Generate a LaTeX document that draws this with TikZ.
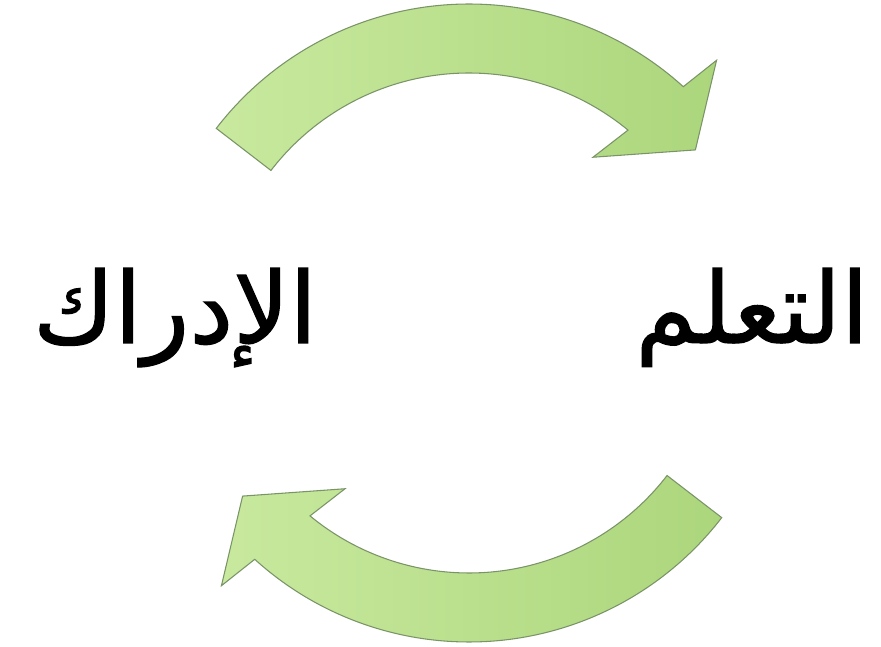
\documentclass[tikz,border=0pt]{standalone}
\usepackage{fontspec}
\newfontfamily\arabicfont[Script=Arabic, FakeBold=1.2]{DejaVu Sans}
\TeXXeTstate=1
\definecolor{arrowlight}{RGB}{200,233,158}
\definecolor{arrowdark}{RGB}{172,214,124}
\definecolor{arrowline}{RGB}{122,148,104}

\begin{document}
\begin{tikzpicture}[x=0.75pt, y=0.75pt,
  cyc/.style={draw=arrowline, line width=0.8pt, line join=miter,
              left color=arrowlight, right color=arrowdark},
  word/.style={font=\arabicfont\fontsize{74}{80}\selectfont,
               anchor=base, inner sep=0pt}
]
\useasboundingbox (0,0) rectangle (881,646);
\coordinate (c) at (469,323);

\node[word] (perc)  at (175,303) {\beginR الإدراك\endR};
\node[word] (learn) at (752,303) {\beginR التعلم\endR};

% top arrow, left to right
\draw[cyc, shift={(c)}] (142.4:319) arc[start angle=142.4, end angle=47.8, radius=319]
  -- (46.7:361) -- (37.4:285) -- (53.2:207) -- (50.5:250)
  arc[start angle=50.5, end angle=142.4, radius=250] -- cycle;

% bottom arrow, right to left
\draw[cyc, shift={(c)}] (322.4:319) arc[start angle=322.4, end angle=227.8, radius=319]
  -- (226.7:361) -- (217.4:285) -- (233.2:207) -- (230.5:250)
  arc[start angle=230.5, end angle=322.4, radius=250] -- cycle;
\end{tikzpicture}
\end{document}
